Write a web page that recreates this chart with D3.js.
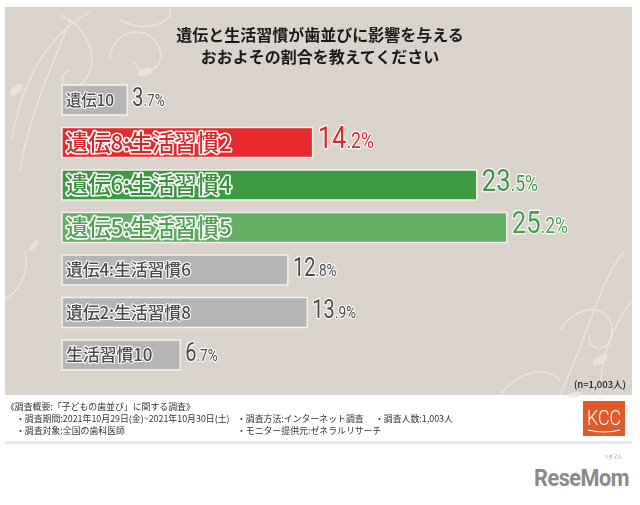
<!DOCTYPE html>
<html><head><meta charset="utf-8">
<script src="https://cdn.jsdelivr.net/npm/d3@7"></script>
<style>
html,body{margin:0;padding:0;background:#fff;}
svg{display:block;}
.jp{font-family:"Noto Sans CJK JP","Noto Sans",sans-serif;}
.num{font-family:"Roboto","Liberation Sans",sans-serif;}
.ol{paint-order:stroke;stroke:#fff;stroke-linejoin:round;}
</style></head>
<body>
<script>
const categories = ["遺伝10","遺伝8:生活習慣2","遺伝6:生活習慣4","遺伝5:生活習慣5","遺伝4:生活習慣6","遺伝2:生活習慣8","生活習慣10"];
const values = [3.7, 14.2, 23.5, 25.2, 12.8, 13.9, 6.7];
const titleLines = ["遺伝と生活習慣が歯並びに影響を与える","おおよその割合を教えてください"];
const footerLines = [
  ["《調査概要:「子どもの歯並び」に関する調査》"],
  ["・調査期間:2021年10月29日(金)~2021年10月30日(土)","・調査方法:インターネット調査","・調査人数:1,003人"],
  ["・調査対象:全国の歯科医師","・モニター提供元:ゼネラルリサーチ"]
];
const sampleNote = "(n=1,003人)";

// styles (kept separate from data)
const barFill = ["#b5b5b5","#e6292d","#3e9a40","#63b064","#b5b5b5","#b5b5b5","#b5b5b5"];
const labelFill = ["#4a4a4a","#dc2529","#3a8f3c","#4fa151","#4a4a4a","#4a4a4a","#4a4a4a"];
const valueFill = ["#4a4a4a","#d52a2d","#3f9444","#47a04b","#4a4a4a","#4a4a4a","#4a4a4a"];
const emph = [false,true,true,true,false,false,false];

const W = 640, H = 505;
const svg = d3.select("body").append("svg").attr("width", W).attr("height", H);

// panel
svg.append("rect").attr("x",5).attr("y",7).attr("width",627).attr("height",388).attr("fill","#d9d3cb");
// faint decoration
const deco = svg.append("g").attr("fill","none").attr("stroke","#ece8e2").attr("stroke-opacity",0.75).attr("stroke-width",1.6);
const swirls = [
  "M12,140 C20,90 40,40 90,12",
  "M20,170 C30,110 55,60 70,20",
  "M60,15 C95,30 100,70 80,85 C65,95 55,75 70,70",
  "M110,60 C110,30 150,20 160,50 C165,70 140,80 135,62",
  "M120,20 C150,35 175,20 170,8",
  "M625,250 C600,280 590,330 560,395",
  "M632,300 C610,330 600,360 600,395",
  "M560,330 C580,300 615,305 612,335 C608,355 585,350 590,335",
  "M500,395 C520,370 545,365 560,380",
  "M5,300 C20,290 30,270 25,250"
];
deco.selectAll("path").data(swirls).join("path").attr("d", d=>d);
svg.append("g").attr("fill","#ece8e2").attr("opacity",0.7)
  .selectAll("ellipse").data([[16,90,8,4,-40],[145,72,8,4,-20],[600,360,8,4,-30],[575,395,7,3,-10],[34,245,7,3,-50]])
  .join("ellipse").attr("cx",d=>d[0]).attr("cy",d=>d[1]).attr("rx",d=>d[2]).attr("ry",d=>d[3])
  .attr("transform",d=>`rotate(${d[4]},${d[0]},${d[1]})`);

// title
svg.append("g").selectAll("text").data(titleLines).join("text")
  .attr("class","jp").attr("x",320).attr("y",(d,i)=>41+i*22)
  .attr("text-anchor","middle").attr("font-size",16).attr("font-weight",700).attr("fill","#1a1a1a")
  .text(d=>d);

// scales
const x = d3.scaleLinear().domain([0, 30]).range([62, 62 + 17.65*30]);
const y = d3.scaleBand().domain(categories).range([85, 370]).paddingInner(0.294).paddingOuter(0);

const rows = categories.map((c,i)=>({c, v: values[i], i}));
const g = svg.append("g");
g.selectAll("rect.bar").data(rows).join("rect").attr("class","bar")
  .attr("x", x(0)).attr("y", d=>y(d.c)).attr("width", d=>x(d.v)-x(0)).attr("height", y.bandwidth())
  .attr("fill", d=>barFill[d.i]).attr("stroke","#f4f1ec").attr("stroke-width",1.5);

// labels inside bars
g.selectAll("text.lab").data(rows).join("text").attr("class","lab jp ol")
  .attr("x", x(0)+4).attr("y", d=>y(d.c)+y.bandwidth()/2).attr("dy","0.36em")
  .attr("font-size", d=> emph[d.i] ? 22.5 : (d.i===0?15.5:17))
  .attr("font-weight", 500)
  .attr("letter-spacing", d=> emph[d.i] ? -0.2 : -0.2)
  .attr("stroke-width", d=> emph[d.i] ? 3.2 : 2.2)
  .attr("fill", d=>labelFill[d.i]).text(d=>d.c);

// value labels (condensed via horizontal scaling)
const vl = g.selectAll("text.val").data(rows).join("text").attr("class","val num ol")
  .attr("transform", d=>`translate(${x(d.v)+5},${y(d.c)+y.bandwidth()/2}) scale(0.8,1)`)
  .attr("dy","0.37em")
  .attr("fill", d=>valueFill[d.i]).attr("stroke-width",2.4);
vl.append("tspan").attr("font-size", d=> emph[d.i] ? 32 : 25).text(d=>Math.floor(d.v));
vl.append("tspan").attr("font-size", d=> emph[d.i] ? 22 : 17).text(d=>"." + Math.round((d.v%1)*10) + "%");

// sample note
svg.append("text").attr("class","jp").attr("x",626).attr("y",388).attr("text-anchor","end")
  .attr("font-size",9.5).attr("font-weight",500).attr("fill","#222").text(sampleNote);

// footer
const fx = [[6],[16,237,375],[16,237]];
const fg = svg.append("g").attr("class","jp").attr("font-size",8.9).attr("fill","#333");
footerLines.forEach((line,li)=>{
  line.forEach((t,ti)=>{
    fg.append("text").attr("x",fx[li][ti]).attr("y",410+li*12).text(t);
  });
});
svg.append("rect").attr("x",5).attr("y",441).attr("width",627).attr("height",3).attr("fill","#e8e8e8");

// KCC logo
svg.append("rect").attr("x",583).attr("y",401).attr("width",42).attr("height",35).attr("fill","#e05b2c");
svg.append("text").attr("transform","translate(604,425) scale(0.85,1)").attr("text-anchor","middle").attr("class","num")
  .attr("font-size",21).attr("font-weight",300).attr("fill","#fff").text("KCC");
svg.append("path").attr("d","M588,430 Q604,434 620,430").attr("stroke","#fff").attr("stroke-width",1.2).attr("fill","none");

// ReseMom logo
svg.append("text").attr("transform","translate(629,486) scale(0.9,1)").attr("text-anchor","end").attr("class","num")
  .attr("font-size",24).attr("font-weight",700).attr("fill","#8a8a8a").attr("letter-spacing",-0.5).text("ReseMom");
svg.append("text").attr("x",613).attr("y",458).attr("text-anchor","middle").attr("class","jp")
  .attr("font-size",4.5).attr("fill","#8a8a8a").text("リセマム");
</script>
</body></html>
